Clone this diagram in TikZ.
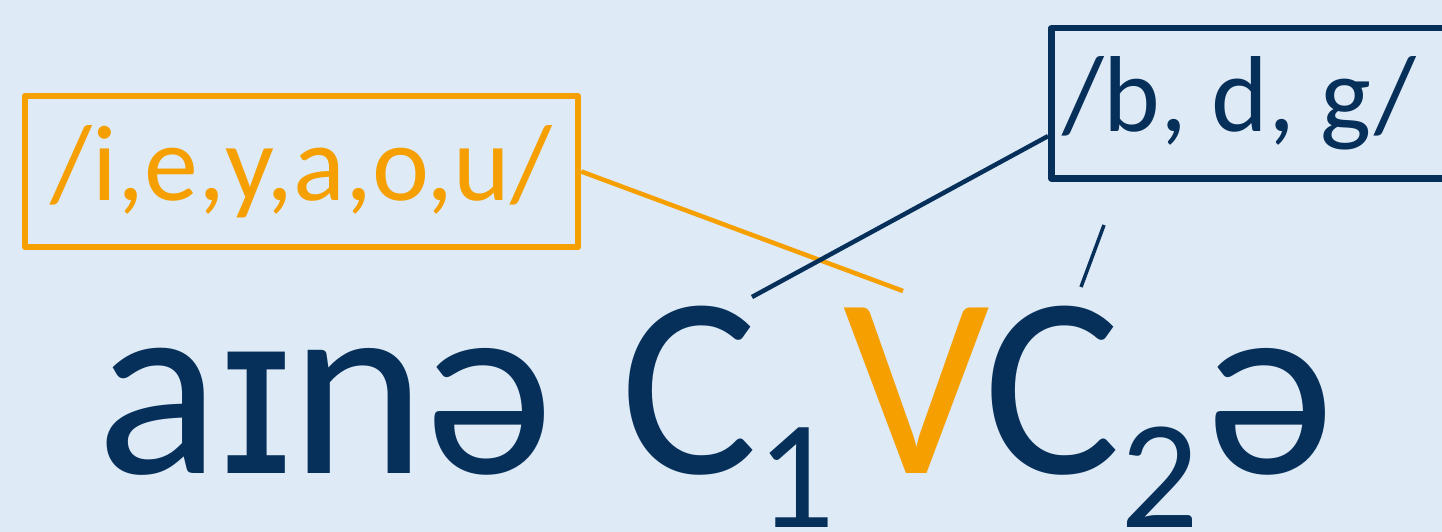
\documentclass[tikz,border=0pt]{standalone}
\usepackage{fontspec}
\setmainfont{Carlito}
\newfontfamily\ipafont{DejaVu Sans}
\usetikzlibrary{calc}
\definecolor{bg}{HTML}{DEEAF6}
\definecolor{navy}{HTML}{06305A}
\definecolor{amber}{HTML}{F59F00}
\tikzset{
  boxlabel/.style={draw, line width=6.5pt, line join=round, inner sep=0pt, font=\fontsize{108}{108}\selectfont},
  bigtext/.style={inner sep=0pt, anchor=base west, text=navy, font=\fontsize{258}{258}\selectfont},
  subtext/.style={inner sep=0pt, anchor=base west, text=navy, font=\fontsize{155}{155}\selectfont},
  linkline/.style={line width=4.5pt}
}
\begin{document}
\begin{tikzpicture}[x=1pt,y=-1pt]
\fill[bg] (0,0) rectangle (1442,532);
\useasboundingbox (0,0) rectangle (1442,532);
% boxes
\node[boxlabel, amber, text=amber, minimum width=553pt, minimum height=151pt] (obox) at (301.5,171.5) {/i,e,y,a,o,u/};
\node[boxlabel, navy, text=navy, minimum width=410pt, minimum height=150pt, anchor=north west] (dbox) at (1048,25) {\hspace*{-34pt}/b, d, g/};
% main text
\node[bigtext] (w1) at (96,473) {a\hspace{-4pt}{\ipafont\fontsize{222}{222}\selectfont ɪ}\hspace{-8pt}nə};
\node[bigtext] (c1) at (620,473) {C};
\node[subtext] (s1) at (756,527) {1};
\node[bigtext, text=amber] (v) at (843,473) {V};
\node[bigtext] (c2) at (983,473) {C};
\node[subtext] (s2) at (1120,527) {2};
\node[bigtext] (w2) at (1206,473) {ə};
% connectors
\coordinate (oend) at (903,291);
\coordinate (dend) at (752,297);
\coordinate (tickA) at (1104,225);
\coordinate (tickB) at (1081,287);
\draw[linkline, amber] ($(obox.north east)!0.5!(obox.south east)$) -- (oend);
\draw[linkline, navy] ($(dbox.north west)!0.71!(dbox.south west)$) -- (dend);
\draw[navy, line width=3.5pt] (tickA) -- (tickB);
\end{tikzpicture}
\end{document}
